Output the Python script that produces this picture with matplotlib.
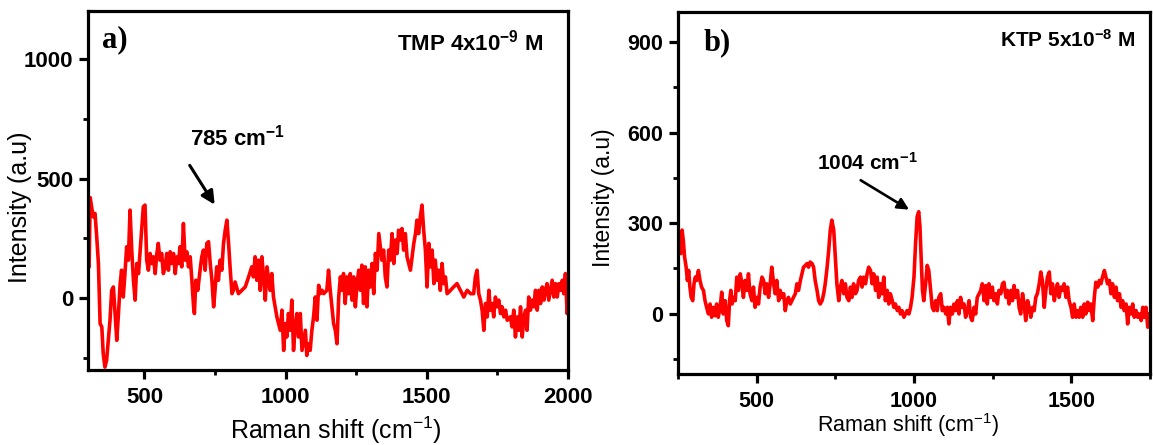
import matplotlib
matplotlib.use("Agg")
import matplotlib.pyplot as plt
from matplotlib.ticker import MultipleLocator

plt.rcParams['font.family'] = ['Liberation Sans', 'DejaVu Sans']
plt.rcParams['mathtext.default'] = 'regular'

# spectrum a) TMP 4x10^-9 M  (Raman shift, intensity)
raman_a = [300, 304, 308, 313, 319, 325, 331, 337, 343, 349, 354, 360, 366, 372, 378, 384, 390, 396,
           402, 408, 414, 419, 425, 431, 437, 443, 449, 455, 461, 467, 473, 479, 484, 490, 496, 502,
           508, 514, 520, 526, 532, 538, 544, 549, 555, 561, 567, 573, 579, 585, 591, 597, 603, 609,
           615, 620, 626, 632, 638, 644, 650, 656, 662, 668, 674, 677, 682, 689, 697, 703, 709, 715,
           721, 727, 733, 739, 745, 750, 756, 762, 768, 774, 780, 786, 792, 798, 804, 810, 815, 821,
           833, 845, 857, 869, 880, 886, 892, 898, 904, 910, 916, 922, 928, 934, 940, 945, 951, 957,
           969, 981, 987, 993, 999, 1004, 1010, 1016, 1022, 1028, 1034, 1040, 1046, 1052, 1058, 1064,
           1070, 1075, 1081, 1087, 1093, 1099, 1105, 1111, 1117, 1123, 1129, 1135, 1146, 1152, 1158,
           1164, 1170, 1176, 1182, 1188, 1194, 1200, 1205, 1211, 1217, 1223, 1229, 1235, 1241, 1247,
           1253, 1259, 1265, 1270, 1276, 1282, 1288, 1294, 1300, 1306, 1312, 1318, 1324, 1330,
           1341, 1347, 1353, 1359, 1365, 1371, 1377, 1383, 1389, 1395, 1400, 1406, 1412, 1418, 1424,
           1430, 1436, 1442, 1448, 1454, 1460, 1465, 1471, 1477, 1483, 1489, 1495, 1501, 1507, 1513,
           1519, 1525, 1530, 1536, 1542, 1548, 1554, 1560, 1566, 1572, 1584, 1595, 1607, 1619, 1631,
           1643, 1655, 1666, 1672, 1678, 1684, 1690, 1696, 1702, 1708, 1714, 1720, 1725, 1731, 1737,
           1743, 1749, 1755, 1761, 1767, 1773, 1779, 1785, 1796, 1802, 1808, 1814, 1820, 1826, 1832,
           1838, 1844, 1850, 1855, 1861, 1867, 1873, 1879, 1885, 1891, 1897, 1903, 1909, 1915, 1920,
           1926, 1932, 1938, 1944, 1950, 1956, 1962, 1968, 1974, 1980, 1985, 1991, 1997, 2000]
intensity_a = [290, 130, 420, 380, 340, 354, 256, 145, -106, -120, -232, -288, -260, -176, -92, 33, 47, -64,
               -176, -64, 61, 117, 5, 103, 215, 159, 368, 201, 75, -8, 145, 103, 187, 284, 382, 389,
               159, 117, 187, 145, 173, 103, 187, 229, 159, 187, 103, 131, 187, 117, 194, 145, 187, 103,
               173, 145, 215, 131, 312, 159, 194, 131, 173, 75, -36, -64, 75, 33, 117, 173, 201, 117,
               229, 236, 145, 75, -36, 33, 131, 75, 159, 117, 229, 284, 326, 229, 117, 19, 33, 68,
               19, 33, 47, 89, 131, 89, 173, 75, 159, 33, 173, 89, -8, 131, 75, 33, 103, 5,
               -78, -134, -50, -218, -106, -162, -64, -134, -8, -218, -120, -64, -162, -64, -218, -176,
               -134, -239, -190, -218, -134, -78, 5, -92, 54, 19, 33, 19, 33, 117, 33,
               -36, -106, -134, -190, 5, 89, 33, 103, -22, 89, 19, 103, -8, 89, -36,
               61, 117, 33, 138, -22, 131, -36, 117, 47, 145, 19, 187, 117, 270,
               159, 201, 89, 47, 201, 159, 270, 145, 243, 187, 284, 243, 291, 201, 270,
               173, 145, 117, 173, 229, 270, 326, 270, 340, 389, 284, 201, 47, 229, 131,
               201, 61, 159, 75, 117, 33, 145, 61, 89, 19, 33, 47, 61, 33, 5,
               33, 19, 19, 89, 117, 19, -8, -50, -134, -22, -78, 33, -50, -22, -78,
               5, -36, -8, -64, -36, -78, -50, -92, -78, -120, -50, -162, -78, -134, -36,
               -162, -78, -50, -134, 5, -50, -8, -36, 33, -50, 33, -22, 47, -8, 33,
               61, -8, 33, 75, 5, 61, 5, 61, 33, 75, 19, 103, -64, 61]

# spectrum b) KTP 5x10^-8 M
raman_b = [251, 259, 263, 267, 271, 276, 280, 284, 288, 292, 297, 301, 305, 309, 315, 320, 325, 331,
           336, 341, 347, 352, 357, 363, 368, 373, 378, 384, 389, 394, 400, 405, 410, 414, 418, 422,
           426, 432, 437, 442, 448, 453, 458, 463, 469, 474, 479, 485, 490, 495, 501, 506, 511, 517,
           522, 527, 532, 538, 543, 548, 554, 559, 564, 570, 575, 580, 586, 591, 596, 601, 607, 612,
           617, 623, 628, 633, 639, 644, 649, 655, 660, 665, 670, 676, 681, 686, 692, 697, 702, 708,
           713, 718, 724, 729, 734, 739, 745, 750, 755, 761, 766, 771, 777, 782, 787, 793, 798, 803,
           808, 814, 819, 824, 830, 835, 840, 846, 851, 856, 862, 867, 872, 878, 883, 888, 893, 899,
           904, 909, 915, 920, 925, 931, 936, 941, 947, 952, 957, 962, 968, 973, 978, 984, 989, 994,
           1000, 1005, 1010, 1015, 1019, 1023, 1027, 1031, 1037, 1042, 1047, 1053, 1058, 1063, 1069,
           1074, 1079, 1085, 1090, 1095, 1101, 1106, 1111, 1116, 1122, 1127, 1132, 1138, 1143, 1148,
           1154, 1159, 1164, 1170, 1175, 1180, 1185, 1191, 1196, 1201, 1207, 1212, 1217, 1223, 1228,
           1233, 1238, 1244, 1249, 1254, 1260, 1265, 1270, 1276, 1281, 1286, 1292, 1297, 1302, 1308,
           1313, 1318, 1323, 1329, 1334, 1339, 1345, 1350, 1355, 1361, 1366, 1371, 1377, 1382, 1387,
           1392, 1398, 1403, 1408, 1414, 1419, 1424, 1430, 1435, 1440, 1446, 1451, 1456, 1461, 1467,
           1472, 1477, 1483, 1488, 1493, 1499, 1504, 1509, 1515, 1520, 1525, 1530, 1536, 1541, 1546,
           1552, 1557, 1562, 1568, 1573, 1578, 1584, 1589, 1594, 1599, 1605, 1610, 1615, 1621, 1626,
           1631, 1637, 1642, 1647, 1653, 1658, 1663, 1668, 1674, 1679, 1684, 1690, 1695, 1700, 1706,
           1711, 1716, 1722, 1727, 1732, 1737, 1743, 1748]
intensity_b = [220, 199, 277, 243, 188, 154, 110, 143, 88, 54, 43, 99, 121, 110, 143, 110, 88, 77,
               43, 21, -1, 32, -12, 21, -7, 32, -12, 21, 71, -1, 43, -23, -40, 43, 77, 32,
               54, 43, 121, 77, 132, 99, 54, 110, 77, 132, 66, 43, 88, 21, 54, 32, 88, 121,
               110, 66, 99, 54, 99, 154, 99, 66, 110, 43, 77, 54, 66, 10, 43, 54, 32, 43,
               54, 66, 99, 77, 110, 132, 154, 160, 166, 154, 171, 166, 154, 110, 77, 43, 32, 43,
               66, 99, 154, 210, 277, 310, 277, 188, 99, 43, 88, 110, 66, 99, 54, 43, 88, 54,
               99, 66, 77, 110, 121, 88, 121, 99, 132, 154, 143, 99, 132, 77, 121, 54, 99, 66,
               121, 43, 77, 32, 66, 43, 21, 32, 10, 21, -1, 10, -12, -1, 10, -1, 21, 54,
               121, 232, 321, 338, 288, 177, 77, 43, 99, 160, 143, 77, 21, 10, 43,
               10, 54, 66, 10, 21, -1, 21, -34, 21, -1, 32, 10, 43, -1, 54,
               21, 32, -12, 10, 43, -12, -23, 21, -1, 54, 66, 77, 99, 43, 93,
               32, 99, 54, 88, 43, 66, 32, 77, 66, 99, 104, 54, 77, 32, 77,
               43, 93, 54, 77, 21, -1, 66, 32, -23, 43, 21, -12, 21, 10, 54,
               66, 99, 138, 110, 21, 77, 121, 138, 66, 99, 43, 77, 99, 54, 88,
               77, 99, 54, 88, 43, 21, -12, 32, -12, 10, -12, 21, -12, 32, -1,
               38, 10, 32, -23, 54, 104, 88, 110, 99, 121, 143, 121, 99, 110, 66,
               99, 54, 88, 43, 66, 21, 43, 10, 32, -34, 21, -1, 32, -12, 10,
               -12, -1, -23, 21, -12, 21, -45, -1]

fig = plt.figure(figsize=(11.53, 4.45), dpi=100)
ax1 = fig.add_axes([0.0763, 0.1685, 0.4163, 0.8068])
ax2 = fig.add_axes([0.588, 0.1596, 0.4094, 0.8135])


def style_axis(ax, fs):
    for sp in ax.spines.values():
        sp.set_linewidth(2.3)
    ax.tick_params(which='major', direction='out', length=6.5, width=2.3, labelsize=fs)
    ax.tick_params(which='minor', direction='out', length=3.5, width=2.0)
    ax.tick_params(axis='x', which='major', pad=6)
    ax.tick_params(axis='y', which='major', pad=4)
    for lab in ax.get_xticklabels() + ax.get_yticklabels():
        lab.set_fontweight('bold')


# panel a
ax1.plot(raman_a, intensity_a, color='#ff0000', lw=2.6)
ax1.set_xlim(300, 2000)
ax1.set_ylim(-300, 1200)
ax1.xaxis.set_major_locator(MultipleLocator(500))
ax1.xaxis.set_minor_locator(MultipleLocator(250))
ax1.yaxis.set_major_locator(MultipleLocator(500))
ax1.yaxis.set_minor_locator(MultipleLocator(250))
style_axis(ax1, 16)
ax1.set_xlabel('Raman shift (cm$^{-1}$)', fontsize=18)
ax1.set_ylabel('Intensity (a.u)', fontsize=18)
ax1.xaxis.set_label_coords(0.517, -0.125)
ax1.yaxis.set_label_coords(-0.117, 0.454)
ax1.text(0.029, 0.919, 'a)', transform=ax1.transAxes, family='Liberation Serif',
         fontweight='bold', fontsize=22, ha='left', va='center')
ax1.text(0.948, 0.912, 'TMP 4x10$^{-9}$ M', transform=ax1.transAxes, fontweight='bold',
         fontsize=16, ha='right', va='center')
ax1.annotate('', xy=(754, 381), xytext=(655, 565),
             arrowprops=dict(arrowstyle='-|>', color='black', lw=2.2, mutation_scale=20))
ax1.text(662, 670, '785 cm$^{-1}$', fontweight='bold', fontsize=16, ha='left', va='center')

# panel b
ax2.plot(raman_b, intensity_b, color='#ff0000', lw=2.6)
ax2.set_xlim(250, 1750)
ax2.set_ylim(-200, 1000)
ax2.xaxis.set_major_locator(MultipleLocator(500))
ax2.xaxis.set_minor_locator(MultipleLocator(250))
ax2.yaxis.set_major_locator(MultipleLocator(300))
ax2.yaxis.set_minor_locator(MultipleLocator(150))
style_axis(ax2, 15.5)
ax2.set_xlabel('Raman shift (cm$^{-1}$)', fontsize=15.5)
ax2.set_ylabel('Intensity (a.u)', fontsize=16.5)
ax2.xaxis.set_label_coords(0.487, -0.103)
ax2.yaxis.set_label_coords(-0.133, 0.488)
ax2.text(0.055, 0.914, 'b)', transform=ax2.transAxes, family='Liberation Serif',
         fontweight='bold', fontsize=22, ha='left', va='center')
ax2.text(0.968, 0.922, 'KTP 5x10$^{-8}$ M', transform=ax2.transAxes, fontweight='bold',
         fontsize=15, ha='right', va='center')
ax2.annotate('', xy=(992, 340), xytext=(823, 447),
             arrowprops=dict(arrowstyle='-|>', color='black', lw=1.9, mutation_scale=17))
ax2.text(693, 500, '1004 cm$^{-1}$', fontweight='bold', fontsize=15, ha='left', va='center')

fig.savefig('out.png', dpi=100)
